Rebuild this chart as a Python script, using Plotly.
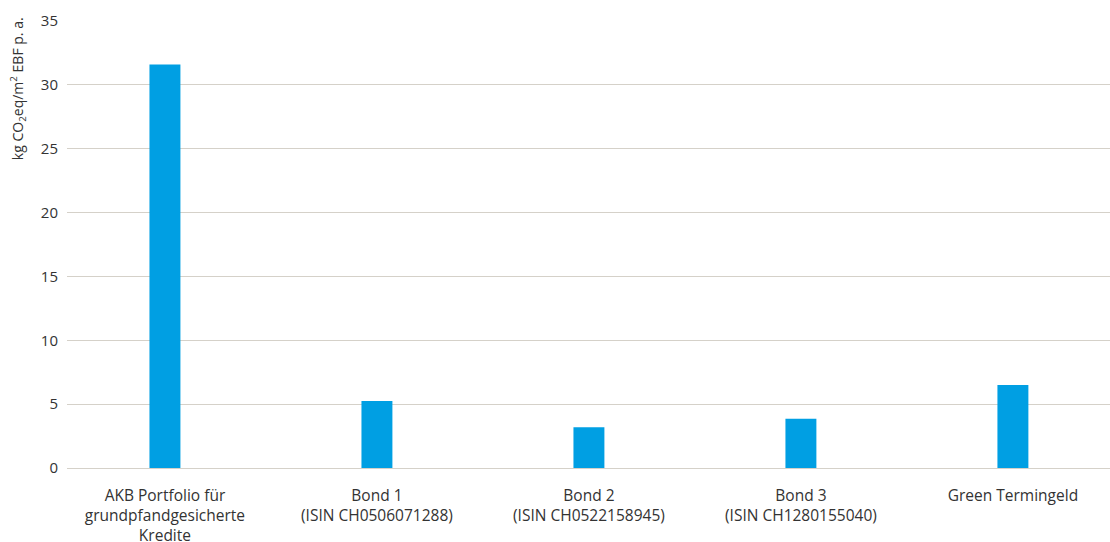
import plotly.graph_objects as go

categories = [
    "AKB Portfolio für<br>grundpfandgesicherte<br>Kredite",
    "Bond 1<br>(ISIN CH0506071288)",
    "Bond 2<br>(ISIN CH0522158945)",
    "Bond 3<br>(ISIN CH1280155040)",
    "Green Termingeld",
]
values = [31.6, 5.25, 3.2, 3.85, 6.5]
y_ticks = [0, 5, 10, 15, 20, 25, 30, 35]
y_title = "kg CO<sub>2</sub>eq/m<sup>2</sup> EBF p. a."

fig = go.Figure()
fig.add_trace(go.Bar(
    x=categories, y=values,
    marker=dict(color="#009FE3", line=dict(width=0)),
    width=0.146,
))

fig.update_layout(
    width=1110, height=542,
    margin=dict(l=67, r=0, t=21, b=74),
    plot_bgcolor="white", paper_bgcolor="white",
    font=dict(family="Open Sans, Noto Sans, sans-serif", size=14, color="#333333"),
    showlegend=False,
    xaxis=dict(
        range=[-0.462, 4.458], automargin=False,
        showgrid=False, showline=False, zeroline=False,
        ticks="", ticklabelstandoff=16,
        tickfont=dict(size=15.5, color="#333333"),
    ),
    yaxis=dict(
        range=[0, 35], tickvals=y_ticks, automargin=False,
        showgrid=True, gridcolor="#D5D1C9", gridwidth=1.3,
        zeroline=True, zerolinecolor="#D5D1C9", zerolinewidth=1.3,
        showline=False, ticks="", ticklabelstandoff=8,
        tickfont=dict(size=15, color="#333333"),
    ),
    annotations=[dict(
        text=y_title, textangle=-90, showarrow=False,
        xref="paper", yref="paper",
        x=(18 - 67) / 1043, y=1.012, xanchor="center", yanchor="top",
        font=dict(size=14, color="#333333"),
    )],
)

fig.write_html("out.html")
